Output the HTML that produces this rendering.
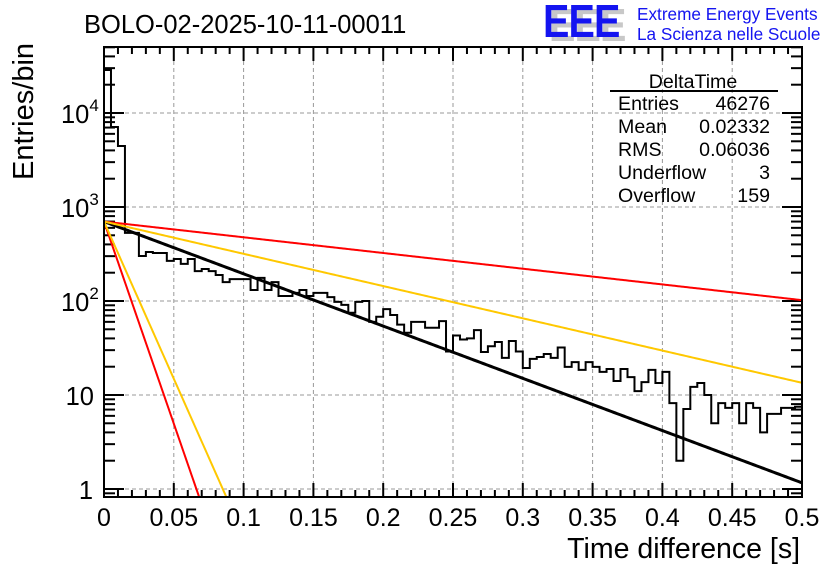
<!DOCTYPE html>
<html><head><meta charset="utf-8"><style>
html,body{margin:0;padding:0;background:#fff;}
svg{display:block;font-family:"Liberation Sans",sans-serif;}
</style></head><body>
<svg id="c" width="836" height="572" viewBox="0 0 836 572">
<text x="84" y="33" font-size="25.5">BOLO-02-2025-10-11-00011</text>
<g>
<text transform="translate(549,41) scale(0.86,1)" font-size="46" font-weight="bold" fill="#c8c8c8" letter-spacing="-1">EEE</text>
<text transform="translate(543,37) scale(0.86,1)" font-size="46" font-weight="bold" fill="#1414f0" letter-spacing="-1">EEE</text>
<text x="637" y="20" font-size="17.2" fill="#1414f0">Extreme Energy Events</text>
<text x="637" y="40" font-size="17.2" fill="#1414f0">La Scienza nelle Scuole</text>
</g>
<g id="grid"></g>
<g id="ticks"></g>
<g id="hist"></g>
<g id="fits"></g>
<rect x="104" y="47" width="698" height="450" fill="none" stroke="#000" stroke-width="2"/>
<g id="labels"></g>
<text x="800" y="558" font-size="28.5" text-anchor="end">Time difference [s]</text>
<text transform="translate(33,180) rotate(-90)" font-size="29">Entries/bin</text>
<g font-size="19.6">
<text x="693" y="88" text-anchor="middle">DeltaTime</text>
<line x1="610" y1="91" x2="778" y2="91" stroke="#000" stroke-width="2"/>
<text x="618" y="110">Entries</text><text x="770" y="110" text-anchor="end">46276</text>
<text x="618" y="133">Mean</text><text x="770" y="133" text-anchor="end">0.02332</text>
<text x="618" y="156">RMS</text><text x="770" y="156" text-anchor="end">0.06036</text>
<text x="618" y="179">Underflow</text><text x="770" y="179" text-anchor="end">3</text>
<text x="618" y="202">Overflow</text><text x="770" y="202" text-anchor="end">159</text>
</g>
</svg>
<script>
const binEdgesStart = 0;
const binWidth = 0.005;
const counts = [28700,7100,4450,530,530,301,332,324,324,267,280,248,280,208,219,208,189,159,171,171,
171,131,176,131,159,113,113,122,131,113,122,122,110,98,91,75,98,100,60,68,
82,71,56,46,60,60,52,52,61,29,43,39,40,49,28.7,33,36.6,24.8,37.5,29,
19.4,24.2,25.4,27.3,24.8,32,19.9,22.4,18.5,22.4,19.9,17.6,18.9,14.1,18.9,15.5,11,13.7,18.5,13.4,
17.6,8.2,2,7.1,12.2,13.4,10,5,8.2,7.3,8.2,5,8.2,7.3,4,6.3,6.3,7.3,7.3,7.5];
const fitNames = ['fit-black','fit-red-slow','fit-orange-slow','fit-red-fast','fit-orange-fast'];
const fitAmps = [700,700,700,700,700];
const fitRates = [12.8,3.85,7.9,99,77];
const fitColors = ['#000','#ff0000','#ffc800','#ff0000','#ffc800'];
const fitWidths = [3,2,2,2,2];
const xTicks = [0,0.05,0.1,0.15,0.2,0.25,0.3,0.35,0.4,0.45,0.5];
const xTickLabels = ['0','0.05','0.1','0.15','0.2','0.25','0.3','0.35','0.4','0.45','0.5'];
const yDecades = [0,1,2,3,4];

const NS='http://www.w3.org/2000/svg';
const X0=104,X1=802,Y0=47,Y1=497;
const xs=v=>X0+(v/0.5)*(X1-X0);
const ys=v=>489-94*Math.log10(v);
function mk(tag,attrs,parent){const e=document.createElementNS(NS,tag);for(const k in attrs)e.setAttribute(k,attrs[k]);parent.appendChild(e);return e;}
const grid=document.getElementById('grid'),ticks=document.getElementById('ticks'),labels=document.getElementById('labels');
xTicks.forEach((t,i)=>{
  const x=xs(t);
  if(i>0&&i<xTicks.length-1){const g=mk('line',{x1:x,y1:Y0,x2:x,y2:Y1,stroke:'#999','stroke-dasharray':'4,3','stroke-width':1},grid);
  
  }
  mk('line',{x1:x,y1:Y1,x2:x,y2:Y1-14,stroke:'#000','stroke-width':2},ticks);
  mk('line',{x1:x,y1:Y0,x2:x,y2:Y0+14,stroke:'#000','stroke-width':2},ticks);
  const tl=mk('text',{x:x,y:526,'font-size':25,'text-anchor':'middle'},labels);
  tl.textContent=xTickLabels[i];
  
  
});
for(let k=1;k<50;k++){if(k%5===0)continue;const x=xs(k*0.01);
  mk('line',{x1:x,y1:Y1,x2:x,y2:Y1-7,stroke:'#000','stroke-width':2},ticks);
  mk('line',{x1:x,y1:Y0,x2:x,y2:Y0+7,stroke:'#000','stroke-width':2},ticks);}
yDecades.forEach(d=>{
  const y=ys(Math.pow(10,d));
  const g=mk('line',{x1:X0,y1:y,x2:X1,y2:y,stroke:'#999','stroke-dasharray':'4,3','stroke-width':1},grid);
  
  
  mk('line',{x1:X0,y1:y,x2:X0+20,y2:y,stroke:'#000','stroke-width':2},ticks);
  mk('line',{x1:X1,y1:y,x2:X1-20,y2:y,stroke:'#000','stroke-width':2},ticks);
  const t=mk('text',{x:93,y:y+10,'font-size':25.5,'text-anchor':'end'},labels);
  
  
  if(d===0){t.textContent='1';}
  else if(d===1){t.textContent='10';t.setAttribute('x',94);}
  else{t.textContent='10';t.setAttribute('text-anchor','start');t.setAttribute('x',61);const s=mk('tspan',{dy:-12,'font-size':17},t);s.textContent=String(d);}
});
for(let d=-1;d<5;d++)for(let m=2;m<10;m++){const v=m*Math.pow(10,d);const y=ys(v);if(y<Y0||y>Y1)continue;
  mk('line',{x1:X0,y1:y,x2:X0+11,y2:y,stroke:'#000','stroke-width':2},ticks);
  mk('line',{x1:X1,y1:y,x2:X1-11,y2:y,stroke:'#000','stroke-width':2},ticks);}
const hist=document.getElementById('hist');
let d='';
counts.forEach((c,i)=>{
  const xa=xs(binEdgesStart+i*binWidth),xb=xs(binEdgesStart+(i+1)*binWidth);
  const y=Math.max(Y0,Math.min(Y1,ys(c)));
  d+=(i===0?'M'+xa+','+Y1+' L'+xa+','+y:' L'+xa+','+y)+' L'+xb+','+y;
});
const hp=mk('path',{d:d,fill:'none',stroke:'#000','stroke-width':2},hist);


const fits=document.getElementById('fits');
const cp=mk('clipPath',{id:'clip'},fits);
mk('rect',{x:X0,y:Y0,width:X1-X0,height:Y1-Y0},cp);
fitRates.forEach((r,i)=>{
  let p='';
  for(let k=0;k<=400;k++){const x=0.5*k/400;const v=fitAmps[i]*Math.exp(-r*x);let y=ys(v);if(y>Y1+5){y=Y1+5;p+=' L'+xs(x)+','+y;break;}p+=(k===0?'M':' L')+xs(x)+','+y;}
  const e=mk('path',{d:p,fill:'none',stroke:fitColors[i],'stroke-width':fitWidths[i],'clip-path':'url(#clip)'},fits);
  
  
});
</script>
</body></html>
